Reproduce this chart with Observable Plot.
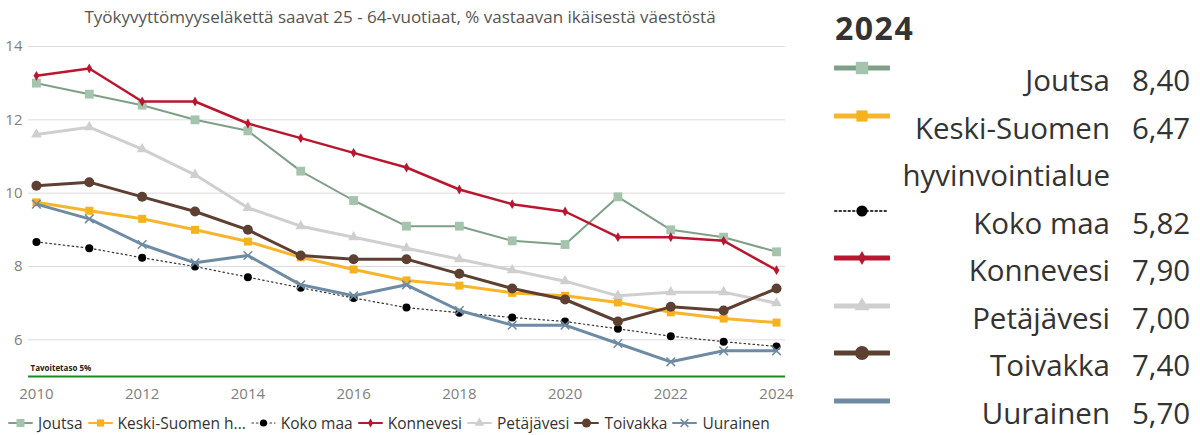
<!DOCTYPE html>
<html><head><meta charset="utf-8">
<script src="https://cdn.jsdelivr.net/npm/d3@7"></script>
<script src="https://cdn.jsdelivr.net/npm/@observablehq/plot@0.6"></script>
<style>
body{margin:0;background:#fff;font-family:"Open Sans","Noto Sans",sans-serif;}
#wrap{position:relative;width:1200px;height:435px;overflow:hidden;background:#fff}
#title{position:absolute;left:0;top:6px;width:800px;text-align:center;font-size:17px;color:#555;line-height:22px}
#chart{position:absolute;left:0;top:30px}
#bleg{position:absolute;left:8px;top:411px;height:24px;display:flex;align-items:center;font-size:15.5px;color:#333;white-space:nowrap}
#bleg .it{display:flex;align-items:center;margin-right:5px}
#bleg svg{margin-right:5px}
#rp{position:absolute;left:800px;top:0;width:400px;height:435px;color:#333}
#rp .yr{position:absolute;left:35px;top:8px;font-size:32px;font-weight:bold;color:#333;line-height:40px;letter-spacing:1.5px}
#rows{position:absolute;left:0;top:56px;width:400px}
.row{position:relative;display:flex;font-size:29.5px;line-height:47.5px}
.row .lab{width:310px;text-align:right}
.row .val{margin-left:22px}
.row svg{position:absolute;left:34px;top:0px}
</style></head>
<body><div id="wrap">
<div id="title"></div>
<div id="chart"></div>
<div id="bleg"></div>
<div id="rp"><div class="yr">2024</div><div id="rows"></div></div>
</div>
<script>
const titleText = "Työkyvyttömyyseläkettä saavat 25 - 64-vuotiaat, % vastaavan ikäisestä väestöstä";
const years = [2010,2011,2012,2013,2014,2015,2016,2017,2018,2019,2020,2021,2022,2023,2024];
const seriesNames = ["Joutsa","Keski-Suomen hyvinvointialue","Koko maa","Konnevesi","Petäjävesi","Toivakka","Uurainen"];
const shortNames = ["Joutsa","Keski-Suomen h...","Koko maa","Konnevesi","Petäjävesi","Toivakka","Uurainen"];
const joutsa     = [13.0,12.7,12.4,12.0,11.7,10.6,9.8,9.1,9.1,8.7,8.6,9.9,9.0,8.8,8.4];
const keskiSuomi = [9.75,9.52,9.3,9.0,8.68,8.25,7.92,7.62,7.48,7.28,7.2,7.02,6.75,6.58,6.47];
const kokoMaa    = [8.67,8.5,8.24,8.0,7.71,7.42,7.14,6.88,6.74,6.61,6.5,6.3,6.1,5.95,5.82];
const konnevesi  = [13.2,13.4,12.5,12.5,11.9,11.5,11.1,10.7,10.1,9.7,9.5,8.8,8.8,8.7,7.9];
const petajavesi = [11.6,11.8,11.2,10.5,9.6,9.1,8.8,8.5,8.2,7.9,7.6,7.2,7.3,7.3,7.0];
const toivakka   = [10.2,10.3,9.9,9.5,9.0,8.3,8.2,8.2,7.8,7.4,7.1,6.5,6.9,6.8,7.4];
const uurainen   = [9.7,9.3,8.6,8.1,8.3,7.5,7.2,7.5,6.8,6.4,6.4,5.9,5.4,5.7,5.7];
const yTicks = [6,8,10,12,14];
const xTicks = [2010,2012,2014,2016,2018,2020,2022,2024];
const target = 5;
const targetLabel = "Tavoitetaso 5%";
const latestYear = "2024";

const seriesValues = [joutsa,keskiSuomi,kokoMaa,konnevesi,petajavesi,toivakka,uurainen];
const styles = [
  {line:"#7f9f88", mark:"#a5c4ae", w:2,   symbol:"square",   r:5,   dash:null},
  {line:"#f7b52c", mark:"#f5b21a", w:3,   symbol:"square",   r:4.5, dash:null},
  {line:"#333",    mark:"#000",    w:1.2, symbol:"circle",   r:4,   dash:"1.5,3"},
  {line:"#b8172f", mark:"#b8172f", w:2.5, symbol:"diamond",  r:3,   dash:null},
  {line:"#cfcfcf", mark:"#cfcfcf", w:3,   symbol:"triangle", r:4,   dash:null},
  {line:"#5e4033", mark:"#5e4033", w:3,   symbol:"circle",   r:5,   dash:null},
  {line:"#6e8ba3", mark:"#6e8ba3", w:3,   symbol:"times",    r:4,   dash:null}
];

document.getElementById("title").textContent = titleText;

const marks = [
  Plot.gridY(yTicks, {stroke:"#dcdcdc", strokeOpacity:1, strokeWidth:1}),
  Plot.axisX(xTicks, {tickSize:0, tickPadding:12, fontSize:15, fill:"#808080", tickFormat:d=>String(d), label:null}),
  Plot.axisY(yTicks, {tickSize:0, tickPadding:6, fontSize:15, fill:"#808080", label:null}),
  Plot.ruleY([target], {stroke:"#1f8a1f", strokeWidth:2}),
  Plot.text([targetLabel], {frameAnchor:"bottom-left", dx:2, dy:-6, fontSize:8, fontWeight:"bold", fill:"#222", textAnchor:"start"})
];
seriesNames.forEach((name,i)=>{
  const s = styles[i];
  const data = years.map((y,j)=>({year:y, value:seriesValues[i][j], series:name}));
  marks.push(Plot.line(data, {x:"year", y:"value", stroke:s.line, strokeWidth:s.w, strokeDasharray:s.dash, curve:"linear"}));
  if (s.symbol==="times") {
    marks.push(Plot.dot(data, {x:"year", y:"value", symbol:"times", r:s.r, stroke:s.mark, strokeWidth:1.5}));
  } else {
    marks.push(Plot.dot(data, {x:"year", y:"value", symbol:s.symbol, r:s.r, fill:s.mark, stroke:"none"}));
  }
});

const chart = Plot.plot({
  width:800, height:376,
  marginTop:16, marginBottom:30, marginLeft:28, marginRight:15,
  style:{fontFamily:"'Open Sans','Noto Sans',sans-serif", background:"#fff"},
  x:{domain:[2009.85,2024.17]},
  y:{domain:[5,14]},
  marks
});
document.getElementById("chart").appendChild(chart);

function symbolPath(sym, r){
  const map = {square:d3.symbolSquare, circle:d3.symbolCircle, diamond:d3.symbolDiamond, triangle:d3.symbolTriangle, times:d3.symbolTimes};
  return d3.symbol(map[sym], r*r*Math.PI)();
}
function swatch(i, w, h, lw, scale, showMark){
  const s = styles[i];
  const cy = h/2;
  let line = `<line x1="1" x2="${w-1}" y1="${cy}" y2="${cy}" stroke="${s.line}" stroke-width="${lw}" stroke-linecap="round" ${s.dash?`stroke-dasharray="${s.dash}"`:""}/>`;
  let mk = "";
  if (showMark) {
    const p = symbolPath(s.symbol, s.r*scale);
    if (s.symbol==="times") mk = `<path d="${p}" transform="translate(${w/2},${cy})" fill="none" stroke="${s.mark}" stroke-width="1.5"/>`;
    else mk = `<path d="${p}" transform="translate(${w/2},${cy})" fill="${s.mark}"/>`;
  }
  return `<svg width="${w}" height="${h}">${line}${mk}</svg>`;
}

// bottom legend
const bleg = document.getElementById("bleg");
shortNames.forEach((n,i)=>{
  const it = document.createElement("div"); it.className="it";
  const lw = i===2 ? 1.2 : 2;
  it.innerHTML = swatch(i, 25, 14, lw, 0.9, true) + `<span>${n}</span>`;
  bleg.appendChild(it);
});

// right panel
document.querySelector("#rp .yr").textContent = latestYear;
const rows = document.getElementById("rows");
const labelLines = [["Joutsa"],["Keski-Suomen","hyvinvointialue"],["Koko maa"],["Konnevesi"],["Petäjävesi"],["Toivakka"],["Uurainen"]];
seriesNames.forEach((n,i)=>{
  const last = seriesValues[i][seriesValues[i].length-1];
  const r = document.createElement("div"); r.className="row";
  const lw = i===2 ? 2 : 5;
  const showMark = i!==6;
  r.innerHTML = swatch(i, 56, 24, lw, 1.4, showMark) +
    `<div class="lab">${labelLines[i].join("<br>")}</div><div class="val">${last.toFixed(2).replace(".",",")}</div>`;
  rows.appendChild(r);
});
</script>
</body></html>
